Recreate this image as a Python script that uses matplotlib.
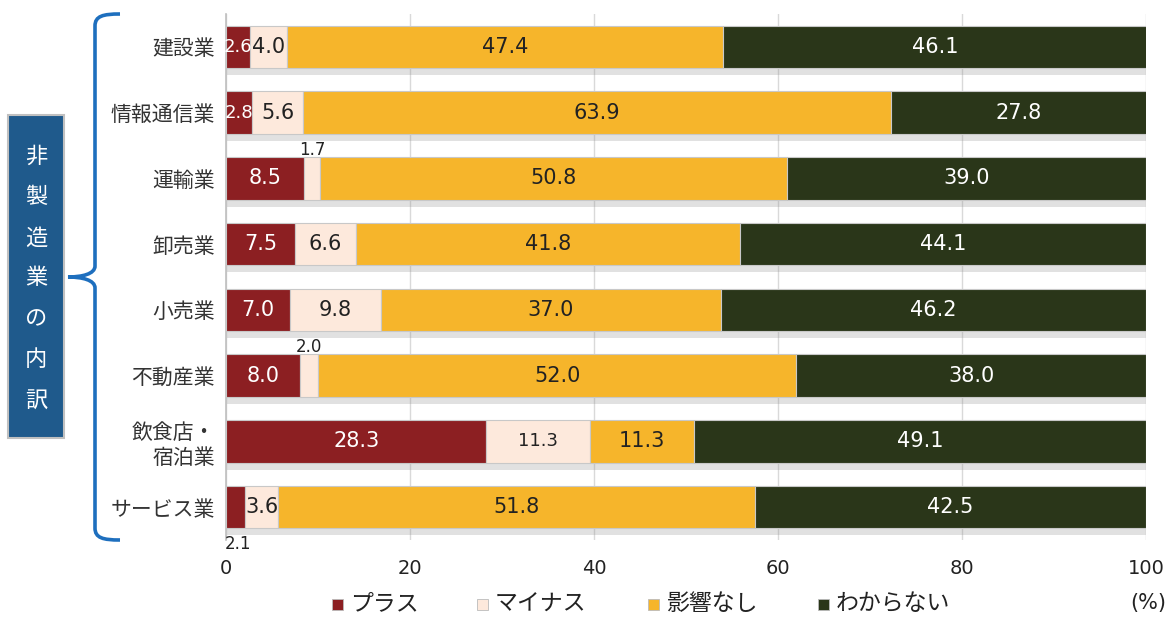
import matplotlib
matplotlib.use("Agg")
import matplotlib.pyplot as plt
import numpy as np
from matplotlib.patches import Rectangle, PathPatch
from matplotlib.path import Path
from matplotlib import patheffects as pe

categories = ["建設業", "情報通信業", "運輸業", "卸売業", "小売業", "不動産業", "飲食店・\n宿泊業", "サービス業"]
series_names = ["プラス", "マイナス", "影響なし", "わからない"]
plus = [2.6, 2.8, 8.5, 7.5, 7.0, 8.0, 28.3, 2.1]
minus = [4.0, 5.6, 1.7, 6.6, 9.8, 2.0, 11.3, 3.6]
none_ = [47.4, 63.9, 50.8, 41.8, 37.0, 52.0, 11.3, 51.8]
unknown = [46.1, 27.8, 39.0, 44.1, 46.2, 38.0, 49.1, 42.5]
xticks = [0, 20, 40, 60, 80, 100]
side_label = "非製造業の内訳"

colors = ["#8C1F22", "#FDE9DC", "#F6B52B", "#2A3619"]
text_colors = ["white", "#222222", "#222222", "white"]

JP = ["Noto Sans CJK JP", "DejaVu Sans"]
NUM = ["DejaVu Sans"]

W, H = 1173, 617
fig = plt.figure(figsize=(W / 100, H / 100), dpi=100)
ax = fig.add_axes([226 / W, 1 - 540 / H, 920 / W, 526 / H])

data = [plus, minus, none_, unknown]
n = len(categories)
y = np.arange(n)
BH = 0.65
left = np.zeros(n)
shadow = [pe.SimplePatchShadow(offset=(1, -5), shadow_rgbFace="#8A8A8A", alpha=0.25), pe.Normal()]
bars_all = []
for i, vals in enumerate(data):
    vals = np.array(vals)
    bars = ax.barh(y, vals, left=left, height=BH, color=colors[i],
                   edgecolor="#C8C8C8", linewidth=0.8, zorder=3)
    for b in bars:
        b.set_path_effects(shadow)
    bars_all.append((vals, left.copy()))
    left = left + vals

# value labels
for i, (vals, lefts) in enumerate(bars_all):
    for j in range(n):
        v = vals[j]
        cx = lefts[j] + v / 2
        txt = f"{v:.1f}"
        col = text_colors[i]
        yy = y[j]
        if v < 2.5 and i == 1:
            ax.text(cx, yy - BH / 2 - 0.03, txt, ha="center", va="baseline", fontsize=12,
                    color="#222222", family=NUM, zorder=5)
            continue
        if v < 2.5 and i == 0:
            ax.text(cx + 0.3, yy + BH / 2 + 0.1, txt, ha="center", va="top", fontsize=12,
                    color="#222222", family=NUM, zorder=5)
            continue
        fs = 15
        if v < 3.0:
            fs = 13
        elif i == 1 and v > 10:
            fs = 13
        ax.text(cx, yy, txt, ha="center", va="center", fontsize=fs, color=col,
                family=NUM, zorder=5)

ax.set_xlim(0, 100)
ax.set_ylim(n - 0.5, -0.5)
ax.set_xticks(xticks)
ax.set_xticklabels([str(t) for t in xticks], fontsize=14, family=NUM, color="#222222")
ax.set_yticks(y)
ax.set_yticklabels(categories, fontsize=15, family=JP, color="#333333", linespacing=1.2)
ax.tick_params(axis="both", length=0)
ax.tick_params(axis="y", pad=8)
ax.tick_params(axis="x", pad=14)
ax.grid(axis="x", color="#D9D9D9", linewidth=1.0, zorder=0)
for s in ["top", "right", "bottom"]:
    ax.spines[s].set_visible(False)
ax.spines["left"].set_color("#BFBFBF")
ax.spines["left"].set_linewidth(1.2)

# side box
fig.patches.append(Rectangle((8 / W, 1 - 438 / H), 56 / W, 323 / H, transform=fig.transFigure,
                             facecolor="#1F5A8C", edgecolor="#C0C0C0", linewidth=1.5))
ys = [156, 197, 238, 278, 319, 359, 401]
for ch, yy in zip(side_label, ys):
    fig.text(36 / W, 1 - yy / H, ch, ha="center", va="center", color="white",
             fontsize=16, family=JP)

# brace
def P(x, yv):
    return (x / W, 1 - yv / H)
verts = [P(120, 14), P(103, 14), P(95, 16), P(95, 26),
         P(95, 266),
         P(95, 274), P(82, 277), P(68, 277),
         P(82, 277), P(95, 280), P(95, 288),
         P(95, 528),
         P(95, 538), P(103, 540), P(120, 540)]
codes = [Path.MOVETO, Path.CURVE4, Path.CURVE4, Path.CURVE4,
         Path.LINETO,
         Path.CURVE4, Path.CURVE4, Path.CURVE4,
         Path.CURVE4, Path.CURVE4, Path.CURVE4,
         Path.LINETO,
         Path.CURVE4, Path.CURVE4, Path.CURVE4]
fig.patches.append(PathPatch(Path(verts, codes), transform=fig.transFigure,
                             facecolor="none", edgecolor="#1E6FBE", linewidth=2.6))

# legend (manual layout)
leg_x = [332, 477, 648, 818]
leg_y = 604
for name, c, lx in zip(series_names, colors, leg_x):
    fig.patches.append(Rectangle((lx / W, 1 - (leg_y + 5.5) / H), 11 / W, 11 / H,
                                 transform=fig.transFigure, facecolor=c,
                                 edgecolor="#BBBBBB", linewidth=0.6))
    fig.text((lx + 18) / W, 1 - leg_y / H, name, ha="left", va="center",
             fontsize=16.5, family=JP, color="#222222")
fig.text(1148 / W, 1 - 603 / H, "(%)", ha="center", va="center", fontsize=15,
         family=NUM, color="#222222")

fig.savefig("out.png", dpi=100)
